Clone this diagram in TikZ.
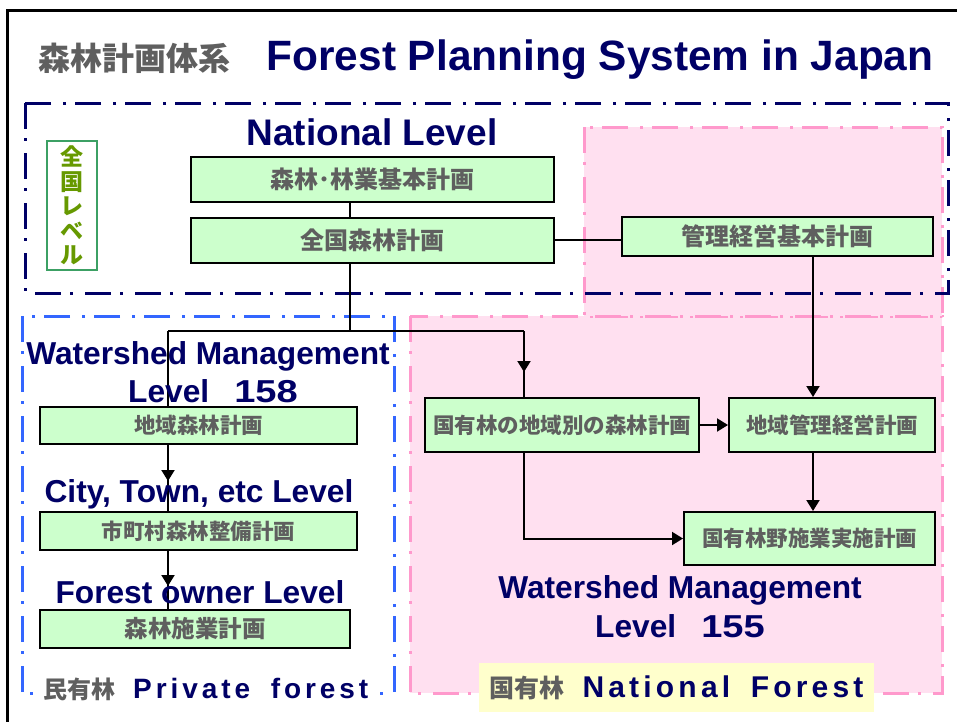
\documentclass[tikz,border=0pt]{standalone}
\usepackage{fontspec}
\setmainfont{Liberation Sans}
\newfontfamily\jp{Noto Sans CJK JP}
\newfontfamily\spaced{Liberation Sans}[LetterSpace=14]
\usetikzlibrary{arrows.meta,decorations.markings}
\definecolor{navy}{RGB}{0,0,102}
\definecolor{txtgray}{RGB}{95,95,95}
\definecolor{boxgreen}{RGB}{204,255,204}
\definecolor{pinkfill}{RGB}{255,224,240}
\definecolor{pinkline}{RGB}{255,153,204}
\definecolor{privblue}{RGB}{51,102,255}
\definecolor{olivetext}{RGB}{102,153,0}
\definecolor{lvlgreen}{RGB}{60,160,100}
\definecolor{labelyellow}{RGB}{255,255,204}
\begin{document}
\begin{tikzpicture}[x=1pt,y=-1pt,
  plan/.style={draw=black,line width=2pt,fill=boxgreen,inner sep=0pt,text=txtgray,
    font=\jp\bfseries\fontsize{21.5}{24}\selectfont},
  conn/.style={line width=2pt,draw=black},
  endtip/.style={-{Triangle[length=11pt,width=13pt]}},
  midtip/.style={postaction={decorate},decoration={markings,
    mark=at position #1 with {\arrow{Triangle[length=11pt,width=13pt]}}}},
  ddot/.style={line width=3pt,dash pattern=on 26pt off 9pt on 3pt off 12pt},
  lvltext/.style={text=navy,font=\bfseries\fontsize{31.7}{36}\selectfont,inner sep=0pt,anchor=base},
]
\useasboundingbox (0,0) rectangle (957,721);
\clip (0,0) rectangle (957,721);
\fill[white] (0,0) rectangle (957,721);

% regions
\draw[ddot,draw=pinkline,fill=pinkfill] (410,316) rectangle (942,693);
\draw[ddot,draw=pinkline,fill=pinkfill] (584,127) rectangle (942,316);
\draw[ddot,draw=navy] (25,103) rectangle (948,293);
\draw[ddot,draw=privblue] (22,316) rectangle (394,693);
\draw[line width=3pt] (7,10) rectangle (990,760);

% titles
\node[font=\jp\bfseries\fontsize{32}{36}\selectfont,text=txtgray,anchor=base west,inner sep=0pt] (t1) at (38,70) {森林計画体系};
\node[text=navy,font=\bfseries\fontsize{42.4}{48}\selectfont,anchor=base,inner sep=0pt] (t2) at (600,70) {Forest Planning System in Japan};
\node[lvltext,font=\bfseries\fontsize{37}{42}\selectfont] (nat) at (372,145) {National Level};

% national level label
\node[draw=lvlgreen,line width=1.2pt,minimum width=50pt,minimum height=129pt,inner sep=0pt,
  align=center,text=olivetext,font=\jp\bfseries\fontsize{23}{24.5}\selectfont] (lvl) at (72,205.5) {全\\国\\レ\\ベ\\ル};

% plan boxes
\node[plan,font=\jp\bfseries\fontsize{24}{28}\selectfont,minimum width=363pt,minimum height=45pt] (b1) at (372.5,179.5) {森林･林業基本計画};
\node[plan,font=\jp\bfseries\fontsize{24}{28}\selectfont,minimum width=363pt,minimum height=45pt] (b2) at (372.5,240) {全国森林計画};
\node[plan,font=\jp\bfseries\fontsize{24}{28}\selectfont,minimum width=311pt,minimum height=39pt] (b3) at (777.5,236.5) {管理経営基本計画};
\node[plan,minimum width=317pt,minimum height=37pt] (b4) at (198.5,425.5) {地域森林計画};
\node[plan,minimum width=317pt,minimum height=38pt] (b5) at (198.5,531) {市町村森林整備計画};
\node[plan,font=\jp\bfseries\fontsize{23.5}{28}\selectfont,minimum width=310pt,minimum height=38pt] (b6) at (195,629) {森林施業計画};
\node[plan,minimum width=274pt,minimum height=54pt] (b7) at (562,425) {国有林の地域別の森林計画};
\node[plan,minimum width=206pt,minimum height=54pt] (b8) at (832,425) {地域管理経営計画};
\node[plan,minimum width=251pt,minimum height=53pt] (b9) at (809.5,538.5) {国有林野施業実施計画};

% connectors
\coordinate (jn) at (350,331);
\coordinate (pl) at (168,331);
\coordinate (nl) at (524,331);
\coordinate (mx) at (813,0);
\draw[conn] (b1.south -| jn) -- (b2.north -| jn);
\draw[conn] (b2.east) -- (b2.east -| b3.west);
\draw[conn] (b2.south -| jn) -- (jn);
\draw[conn] (pl) -- (nl);
\draw[conn] (pl) -- (b4.north -| pl);
\draw[conn,midtip=41pt] (nl) -- (b7.north -| nl);
\draw[conn,midtip=36pt] (b4.south -| pl) -- (b5.north -| pl);
\draw[conn,midtip=35pt] (b5.south -| pl) -- (b6.north -| pl);
\draw[conn,endtip] (b7.east) -- (b8.west);
\draw[conn,endtip] (b3.south -| mx) -- (b8.north -| mx);
\draw[conn,endtip] (b8.south -| mx) -- (b9.north -| mx);
\draw[conn,endtip] (b7.south -| nl) |- (b9.west);

% level texts
\node[lvltext] (ws1) at (208,364) {Watershed Management};
\node[lvltext] (ws1b) at (213,402) {Level\hspace{25pt}\scalebox{1.2}[1]{158}};
\node[lvltext] (city) at (199,502) {City, Town, etc Level};
\node[lvltext] (own) at (200,603) {Forest owner Level};
\node[lvltext] (ws2) at (680,598) {Watershed Management};
\node[lvltext] (ws2b) at (680,637) {Level\hspace{25pt}\scalebox{1.2}[1]{155}};

% bottom labels
\node[fill=white,inner xsep=8pt,inner ysep=3pt,anchor=base west] (priv) at (35,698)
  {{\jp\bfseries\fontsize{24}{28}\selectfont\color{txtgray}民有林}\hspace{18pt}{\spaced\bfseries\fontsize{28}{32}\selectfont\color{navy}Private\hspace{9pt} forest}};
\node[fill=labelyellow,minimum width=395pt,minimum height=49pt,inner sep=0pt] (natl) at (676.5,687.5)
  {{\jp\bfseries\fontsize{25}{28}\selectfont\color{txtgray}国有林}\hspace{18pt}{\spaced\bfseries\fontsize{30}{34}\selectfont\color{navy}National\hspace{8pt} Forest}};
\end{tikzpicture}
\end{document}
